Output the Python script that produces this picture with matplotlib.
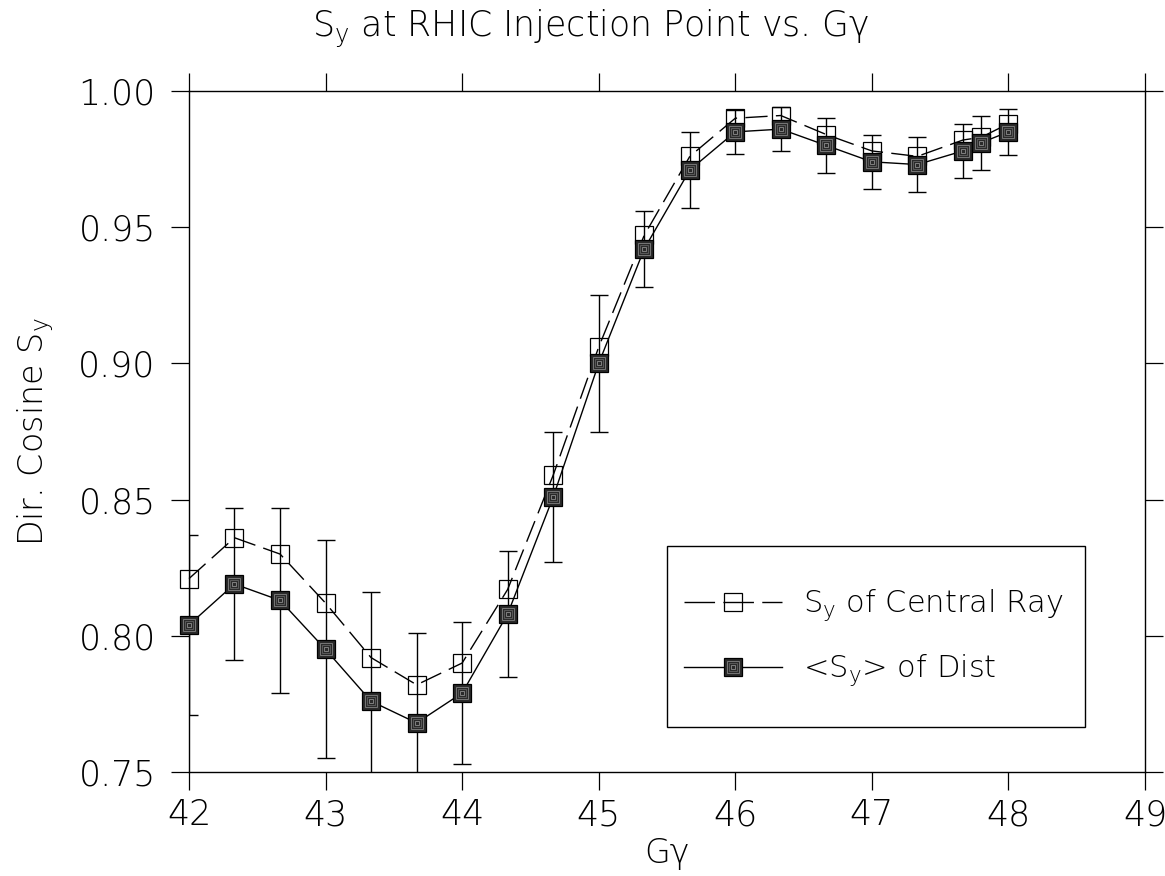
import matplotlib
matplotlib.use('Agg')
import matplotlib.pyplot as plt
from matplotlib.lines import Line2D
from matplotlib.patches import Rectangle
from matplotlib.legend_handler import HandlerTuple

plt.rcParams['font.family'] = ['DejaVu Sans']
plt.rcParams['font.weight'] = 200
plt.rcParams['axes.labelweight'] = 200
plt.rcParams['mathtext.fontset'] = 'dejavusans'

# G*gamma values
ggamma = [42.0, 42.333, 42.667, 43.0, 43.333, 43.667, 44.0, 44.333, 44.667, 45.0,
          45.333, 45.667, 46.0, 46.333, 46.667, 47.0, 47.333, 47.667, 47.8, 48.0]
# S_y of central ray
sy_central = [0.821, 0.836, 0.830, 0.812, 0.792, 0.782, 0.790, 0.817, 0.859, 0.906,
              0.947, 0.976, 0.990, 0.991, 0.984, 0.978, 0.976, 0.982, 0.983, 0.988]
# <S_y> of distribution and its spread
sy_mean = [0.804, 0.819, 0.813, 0.795, 0.776, 0.768, 0.779, 0.808, 0.851, 0.900,
           0.942, 0.971, 0.985, 0.986, 0.980, 0.974, 0.973, 0.978, 0.981, 0.985]
sy_err = [0.033, 0.028, 0.034, 0.040, 0.040, 0.033, 0.026, 0.023, 0.024, 0.025,
          0.014, 0.014, 0.008, 0.008, 0.010, 0.010, 0.010, 0.010, 0.010, 0.0085]

xticks = [42, 43, 44, 45, 46, 47, 48, 49]
yticks = [0.75, 0.80, 0.85, 0.90, 0.95, 1.00]

fig = plt.figure(figsize=(11.65, 8.76), dpi=100)
ax = fig.add_axes([189 / 1165, 1 - 772 / 876, (1145 - 189) / 1165, (772 - 91) / 876])

# central ray, dashed with open squares
ax.plot(ggamma, sy_central, color='black', lw=1.0, dashes=(16, 6),
        marker='s', ms=13, mfc='none', mec='black', mew=0.9, zorder=3,
        clip_on=False)

ax.errorbar(ggamma, sy_mean, yerr=sy_err, fmt='none', ecolor='black', elinewidth=1.0,
            capsize=6.5, capthick=1.0, zorder=4)

# mean of distribution, solid with shaded squares
l_fill, = ax.plot(ggamma, sy_mean, color='black', lw=1.0, marker='s', ms=12.5,
                  mfc='#2a2a2a', mec='black', mew=0.9, zorder=5, clip_on=False)
inner = []
for ms, col in [(9, '#777777'), (6, '#5a5a5a'), (3, '#808080')]:
    l, = ax.plot(ggamma, sy_mean, ls='none', marker='s', ms=ms, mfc='none',
                 mec=col, mew=0.7, zorder=6, clip_on=False)
    inner.append(l)

ax.set_xlim(42, 49)
ax.set_ylim(0.75, 1.00)
ax.set_xticks(xticks)
ax.set_yticks(yticks)
ax.set_yticklabels(['%.2f' % v for v in yticks])
ax.tick_params(direction='out', length=13, width=0.9, labelsize=25,
               top=True, right=True)
ax.tick_params(axis='y', pad=11)
ax.tick_params(axis='x', pad=6)
for s in ax.spines.values():
    s.set_linewidth(1.0)

ax.set_xlabel('Gγ', fontsize=24, labelpad=3)
ax.set_ylabel(r'Dir. Cosine S$\mathregular{_y}$', fontsize=24, labelpad=16)
fig.text(0.507, 1 - 37 / 876, r'S$\mathregular{_y}$ at RHIC Injection Point vs. Gγ',
         fontsize=25, ha='center', va='baseline')

# legend box
ax.add_patch(Rectangle((667, 876 - 727), 418, 181, transform=None, fill=False,
                       ec='black', lw=1.0, zorder=7))
leg_open = Line2D([], [], color='black', lw=1.0, dashes=(22, 6), marker='s', ms=13,
                  mfc='none', mec='black', mew=0.9)
ax.legend([leg_open, tuple([l_fill] + inner)],
          [r'S$\mathregular{_y}$ of Central Ray', r'<S$\mathregular{_y}$> of Dist'],
          handler_map={tuple: HandlerTuple(ndivide=1)},
          loc='center left', bbox_to_anchor=(672 / 1165, 1 - 638 / 876),
          bbox_transform=fig.transFigure, frameon=False, fontsize=22,
          handlelength=3.2, handletextpad=0.7, labelspacing=0.95, numpoints=1,
          borderaxespad=0)

fig.savefig('out.png', dpi=100)
